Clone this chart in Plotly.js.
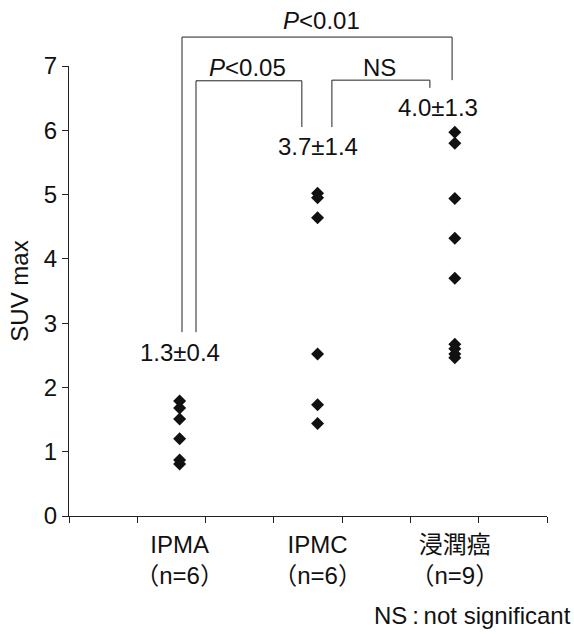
<!DOCTYPE html>
<html>
<head>
<meta charset="utf-8">
<script src="https://cdn.plot.ly/plotly-3.0.1.min.js"></script>
<style>html,body{margin:0;padding:0;background:#fff;}#chart{width:574px;height:635px;}</style>
</head>
<body>
<div id="chart"></div>
<script>
// ---- data ----
const groups = ["IPMA", "IPMC", "浸潤癌"];
const groupN = ["（n=6）", "（n=6）", "（n=9）"];
const ipma = [1.79, 1.68, 1.51, 1.20, 0.87, 0.81];
const ipmc = [5.02, 4.95, 4.64, 2.52, 1.73, 1.44];
const invasive = [5.97, 5.80, 4.94, 4.32, 3.70, 2.67, 2.60, 2.52, 2.46];
const meanSd = ["1.3±0.4", "3.7±1.4", "4.0±1.3"];
const yTicks = [0, 1, 2, 3, 4, 5, 6, 7];

// ---- layout constants ----
const catX = [1.62, 3.64, 5.65];
const FONT = "'Liberation Sans', Arial, Helvetica, 'Noto Sans CJK JP', sans-serif";
const FS = 24;
const series = [ipma, ipmc, invasive];

const traces = series.map((vals, i) => ({
  type: "scatter", mode: "markers",
  x: vals.map(() => catX[i]), y: vals,
  marker: {symbol: "diamond", size: 10, color: "#111"},
  xaxis: "x", yaxis: "y", showlegend: false, hoverinfo: "y"
}));
// invisible trace for the category label axis
traces.push({type: "scatter", mode: "markers", x: catX, y: [0,0,0], xaxis: "x2", yaxis: "y",
  marker: {opacity: 0}, showlegend: false, hoverinfo: "skip"});

// brackets (data units; converted to paper since range is [0,7])
function seg(x0, y0, x1, y1) {
  return {type: "line", xref: "paper", yref: "paper", x0: x0/7, y0: y0/7, x1: x1/7, y1: y1/7,
          line: {color: "#222", width: 1}};
}
const shapes = [
  // P<0.01
  seg(1.655, 2.86, 1.655, 7.45), seg(1.655, 7.45, 5.61, 7.45), seg(5.61, 7.45, 5.61, 6.78),
  // P<0.05
  seg(1.86, 2.86, 1.86, 6.77), seg(1.86, 6.77, 3.41, 6.77), seg(3.41, 6.77, 3.41, 6.05),
  // NS
  seg(3.85, 6.05, 3.85, 6.78), seg(3.85, 6.78, 5.285, 6.78), seg(5.285, 6.78, 5.285, 6.66)
];

const annFont = {family: FONT, size: FS, color: "#111"};
const annotations = [
  {x: 3.70 / 7, y: 7.71 / 7, text: "<i>P</i>&lt;0.01"},
  {x: 2.62 / 7, y: 6.98 / 7, text: "<i>P</i>&lt;0.05"},
  {x: 4.55 / 7, y: 6.98 / 7, text: "NS"},
  {x: 1.63 / 7, y: 2.55 / 7, text: meanSd[0]},
  {x: 3.65 / 7, y: 5.74 / 7, text: meanSd[1]},
  {x: 5.40 / 7, y: 6.35 / 7, text: meanSd[2]}
].map(a => Object.assign({xref: "paper", yref: "paper", showarrow: false, font: annFont,
  xanchor: "center", yanchor: "middle"}, a));
annotations.push({xref: "paper", yref: "paper", x: 1.054, y: -0.22, xanchor: "right", yanchor: "middle",
  showarrow: false, text: "NS\u2009:\u2009not significant", font: annFont});

const layout = {
  width: 574, height: 635,
  margin: {l: 69, r: 27, t: 66, b: 119, pad: 0},
  paper_bgcolor: "#fff", plot_bgcolor: "#fff",
  font: {family: FONT, size: FS, color: "#111"},
  showlegend: false,
  xaxis: {range: [0, 7], tickvals: yTicks, showticklabels: false, ticks: "outside", ticklen: 6,
          tickcolor: "#222", showline: true, linecolor: "#222", linewidth: 1,
          showgrid: false, zeroline: false, fixedrange: true},
  xaxis2: {range: [0, 7], overlaying: "x", side: "bottom", tickvals: catX,
           ticktext: groups.map((g, i) => g + "<br>" + groupN[i]), ticks: "", showline: false,
           showgrid: false, zeroline: false, ticklabelstandoff: 12,
           tickfont: {family: FONT, size: FS, color: "#111"}, fixedrange: true},
  yaxis: {range: [0, 7], tickvals: yTicks, ticks: "outside", ticklen: 6, tickcolor: "#222",
          showline: true, linecolor: "#222", linewidth: 1, showgrid: false, zeroline: false,
          tickfont: {family: FONT, size: FS, color: "#111"},
          title: {text: "SUV max", font: {family: FONT, size: FS, color: "#111"}, standoff: 8},
          fixedrange: true},
  shapes: shapes,
  annotations: annotations
};

Plotly.newPlot("chart", traces, layout, {displayModeBar: false, staticPlot: true});
</script>
</body>
</html>
